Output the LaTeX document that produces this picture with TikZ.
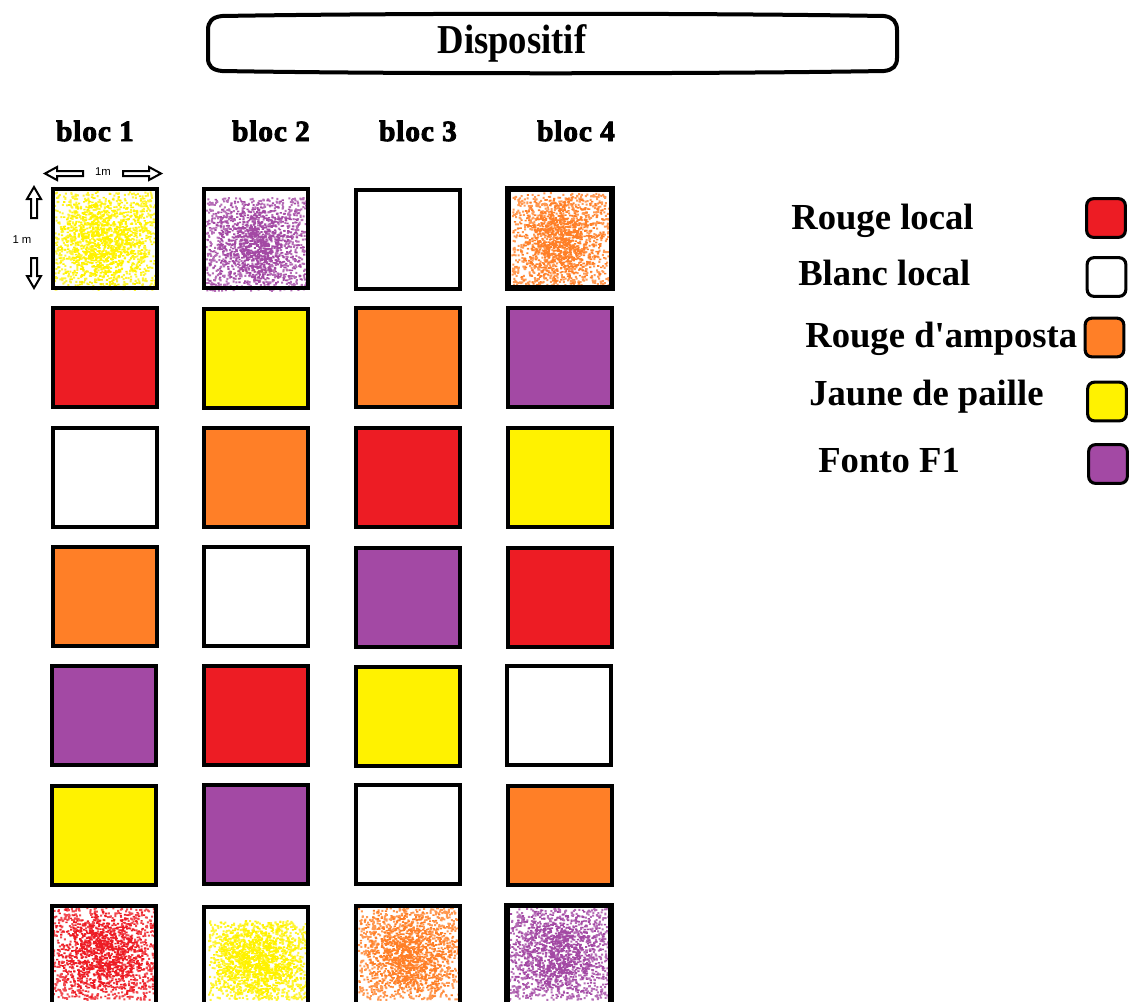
\documentclass[tikz,border=0pt]{standalone}
\usepackage{fontspec}
\setmainfont{Liberation Serif}[Ligatures=TeXOff]
\newfontfamily\sansf{Liberation Sans}
\newfontfamily\blocfont[LetterSpace=3,FakeBold=3]{Liberation Serif}
\definecolor{cred}{HTML}{ED1C24}
\definecolor{cyel}{HTML}{FFF200}
\definecolor{cora}{HTML}{FF7F27}
\definecolor{cpur}{HTML}{A349A4}
% spray: x0 y0 w h colour seed
\newcommand{\spraysq}[6]{%
  \pgfmathsetseed{#6}%
  \fill[#5, fill opacity=0.8] \foreach \k in {1,...,900} {({#1+(#3-2)*rnd},{#2+(#4-2)*rnd}) rectangle ++(2,2)};
  \fill[#5] \foreach \k in {1,...,900} {({#1+(#3-2)*(rnd+rnd)/2},{#2+(#4-2)*(rnd+rnd*0.6)/1.6}) rectangle ++(2.2,1.6)};
}
\begin{document}
\begin{tikzpicture}[x=0.75pt,y=-0.75pt,
  cell/.style={draw=black, line width=3pt, minimum width=78pt, minimum height=74.25pt, inner sep=0pt, outer sep=0pt},
  key/.style={draw=black, line width=2.3pt, rounded corners=5pt, minimum width=29pt, minimum height=29pt, inner sep=0pt},
  keytext/.style={anchor=base west, font=\bfseries\fontsize{27.5}{30}\selectfont, inner sep=0pt},
  bloctext/.style={font=\blocfont\bfseries\fontsize{22}{24}\selectfont, inner sep=0pt},
  harrow/.style={draw=black, line width=1.5pt, fill=white}]
\useasboundingbox (0,0) rectangle (1131,1001);
\clip (0,0) rectangle (1131,1001);

% header
\draw[line width=3pt] (222,16) .. controls (400,13) and (700,13) .. (884,16)
  .. controls (893,17) and (897,22) .. (897,30) -- (897,58)
  .. controls (897,66) and (893,70) .. (884,71)
  .. controls (700,74) and (400,74) .. (222,71)
  .. controls (212,70) and (208,66) .. (208,58) -- (208,30)
  .. controls (208,22) and (212,17) .. (222,16) -- cycle;
\node[font=\bfseries\fontsize{27.5}{30}\selectfont, inner sep=0pt, yscale=1.12] (title) at (512,43) {Dispositif};

% bloc labels
\node[bloctext] (b1) at (95,131) {bloc 1};
\node[bloctext] (b2) at (271,131) {bloc 2};
\node[bloctext] (b3) at (418,131) {bloc 3};
\node[bloctext] (b4) at (576,131) {bloc 4};

% dimension marks
\node[font=\sansf\fontsize{8.5}{10}\selectfont, inner sep=0pt] (w1m) at (103,172) {1m};
\node[font=\sansf\fontsize{8.5}{10}\selectfont, inner sep=0pt] (h1m) at (22,240) {1 m};
\draw[harrow] (45,173.5) -- (57,167) -- (57,171) -- (83,171) -- (83,176) -- (57,176) -- (57,180) -- cycle;
\draw[harrow] (161,173.5) -- (149,167) -- (149,171) -- (123,171) -- (123,176) -- (149,176) -- (149,180) -- cycle;
\draw[harrow] (34,187) -- (41,199) -- (37,199) -- (37,218) -- (31,218) -- (31,199) -- (27,199) -- cycle;
\draw[harrow] (34,288) -- (41,276) -- (37,276) -- (37,258) -- (31,258) -- (31,276) -- (27,276) -- cycle;

% sprayed squares (row 1 and row 7)
\spraysq{54}{191}{104}{100}{cyel}{11}
\spraysq{205}{197}{104}{95}{cpur}{12}
\spraysq{511}{192}{99}{96}{cora}{13}
\spraysq{50}{907}{106}{94}{cred}{14}
\spraysq{208}{920}{100}{81}{cyel}{15}
\spraysq{358}{907}{102}{94}{cora}{16}
\spraysq{505}{907}{106}{94}{cpur}{17}

% row 1
\node[cell] (r1c1) at (105,238.5) {};
\node[cell] (r1c2) at (256,238) {};
\node[cell, fill=white] (r1c3) at (408,239) {};
\node[cell, line width=4pt] (r1c4) at (560,238.5) {};
% row 2
\node[cell, fill=cred] (r2c1) at (105,357.5) {};
\node[cell, fill=cyel] (r2c2) at (256,358) {};
\node[cell, fill=cora] (r2c3) at (408,357.5) {};
\node[cell, fill=cpur] (r2c4) at (560,357.5) {};
% row 3
\node[cell, fill=white] (r3c1) at (105,477) {};
\node[cell, fill=cora] (r3c2) at (256,477) {};
\node[cell, fill=cred] (r3c3) at (408,477) {};
\node[cell, fill=cyel] (r3c4) at (560,477) {};
% row 4
\node[cell, fill=cora] (r4c1) at (105,596.5) {};
\node[cell, fill=white] (r4c2) at (256,596.5) {};
\node[cell, fill=cpur] (r4c3) at (408,597.5) {};
\node[cell, fill=cred] (r4c4) at (560,597) {};
% row 5
\node[cell, fill=cpur] (r5c1) at (104,715) {};
\node[cell, fill=cred] (r5c2) at (256,715.5) {};
\node[cell, fill=cyel] (r5c3) at (408,716) {};
\node[cell, fill=white] (r5c4) at (559,715.5) {};
% row 6
\node[cell, fill=cyel] (r6c1) at (104,835) {};
\node[cell, fill=cpur] (r6c2) at (256,834.5) {};
\node[cell, fill=white] (r6c3) at (408,834.5) {};
\node[cell, fill=cora] (r6c4) at (560,835) {};
% row 7
\node[cell] (r7c1) at (104,955) {};
\node[cell] (r7c2) at (256,956) {};
\node[cell] (r7c3) at (408,955) {};
\node[cell, line width=4pt] (r7c4) at (559,955) {};

% legend
\node[keytext] (t1) at (791,229) {Rouge local};
\node[keytext] (t2) at (798,285) {Blanc local};
\node[keytext] (t3) at (805,347) {Rouge d'amposta};
\node[keytext] (t4) at (809,405) {Jaune de paille};
\node[keytext] (t5) at (818,472) {Fonto F1};
\node[key, fill=cred] (k1) at (1106,218) {};
\node[key, fill=white] (k2) at (1106.5,277) {};
\node[key, fill=cora] (k3) at (1104.5,337.5) {};
\node[key, fill=cyel] (k4) at (1107,401.5) {};
\node[key, fill=cpur] (k5) at (1108,464) {};
\end{tikzpicture}
\end{document}
